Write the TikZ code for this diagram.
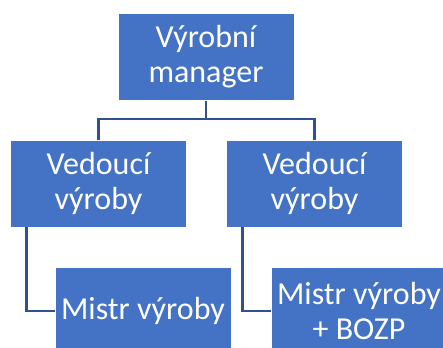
\documentclass[tikz,border=0pt]{standalone}
\usepackage{fontspec}
\setmainfont{Carlito}
\usepackage{tikz}
\usetikzlibrary{positioning}
\definecolor{officeblue}{HTML}{4472C4}
\definecolor{linkblue}{HTML}{2F528F}

\begin{document}
\begin{tikzpicture}[x=1pt, y=-1pt,
        rolebox/.style={fill=officeblue, draw=white, line width=0.6pt, text=white,
            minimum width=176pt, minimum height=87pt, inner sep=0pt, align=center,
            font=\fontsize{32}{35}\selectfont},
        link/.style={draw=linkblue, line width=2.6pt}]
        % Fix the canvas
        \useasboundingbox (0,0) rectangle (443,347);
        \clip (0,0) rectangle (443,347);

        % Boxes
        \node[rolebox] (manager) at (206,57) {Výrobní\\manager};
        \node[rolebox] (vedL) at (98.5,183.5) {Vedoucí\\výroby};
        \node[rolebox] (vedR) at (314.5,183.5) {Vedoucí\\výroby};
        \node[rolebox, minimum height=88pt] (mistrL) at (143,311) {Mistr výroby};
        \node[rolebox, minimum height=88pt] (mistrR) at (359,311) {Mistr výroby\\+ BOZP};

        % Links
        \coordinate (split) at (206,119);
        \draw[link] (manager.south) -- (split) -| (vedL.north);
        \draw[link] (split) -| (vedR.north);
        \draw[link] ([xshift=16pt]vedL.south west) |- (mistrL.west);
        \draw[link] ([xshift=16pt]vedR.south west) |- (mistrR.west);
    \end{tikzpicture}
\end{document}
